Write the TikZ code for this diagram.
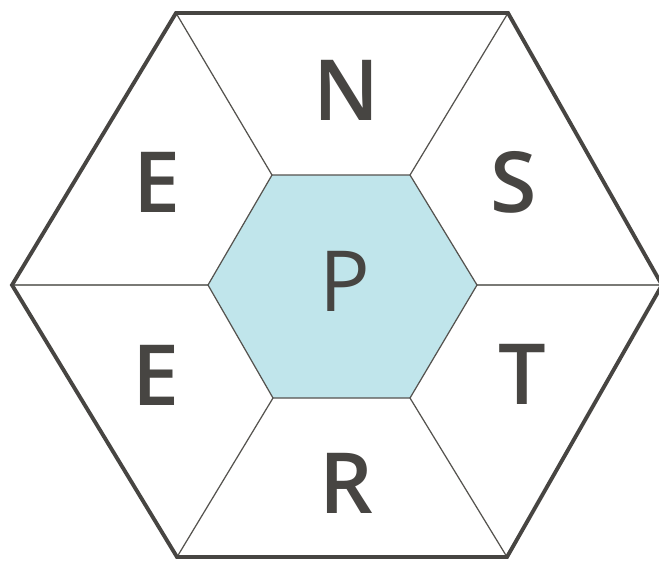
\documentclass[tikz,border=0pt]{standalone}
\usepackage{fontspec}
\setsansfont{Open Sans}
\newfontfamily\hexsemi{Open Sans Semibold}
\usetikzlibrary{positioning}
\definecolor{clrborder}{HTML}{474542}
\definecolor{clrspoke}{HTML}{55534F}
\definecolor{clrmid}{HTML}{7A7A76}
\definecolor{clrcore}{HTML}{C0E5EB}
\definecolor{clrtext}{HTML}{474542}

\begin{document}
\begin{tikzpicture}[
    x=0.02cm, y=-0.02cm,
    outer/.style={draw=clrborder, line width=2.2pt, line join=miter},
    spoke/.style={draw=clrspoke, line width=0.7pt},
    midspoke/.style={draw=clrmid, line width=1.1pt},
    core/.style={fill=clrcore, draw=clrspoke, line width=0.7pt},
    letter/.style={font=\hexsemi\fontsize{48}{48}\selectfont, text=clrtext, inner sep=0pt},
    centre/.style={font=\sffamily\fontsize{48}{48}\selectfont, text=clrtext, inner sep=0pt},
]
\useasboundingbox (0,0) rectangle (659,562);
\fill[white] (0,0) rectangle (659,562);
% outer hexagon
\coordinate (o_1) at (176,13);
\coordinate (o_2) at (508,13);
\coordinate (o_3) at (662,285);
\coordinate (o_4) at (507,557);
\coordinate (o_5) at (177,557);
\coordinate (o_6) at (12,285);
% inner hexagon
\coordinate (i_1) at (272,175);
\coordinate (i_2) at (410,175);
\coordinate (i_3) at (477,285);
\coordinate (i_4) at (410,398);
\coordinate (i_5) at (273,398);
\coordinate (i_6) at (208,285);
\draw[spoke] (i_1) -- (o_1);
\draw[spoke] (i_2) -- (o_2);
\draw[midspoke] (i_3) -- (o_3);
\draw[spoke] (i_4) -- (o_4);
\draw[spoke] (i_5) -- (o_5);
\draw[midspoke] (i_6) -- (o_6);
\draw[core] (i_1) -- (i_2) -- (i_3) -- (i_4) -- (i_5) -- (i_6) -- cycle;
\draw[outer] (o_1) -- (o_2) -- (o_3) -- (o_4) -- (o_5) -- (o_6) -- cycle;
% letters
\node[letter] (n_N) at (347,90) {N};
\node[letter] (n_S) at (514,182) {S};
\node[letter] (n_T) at (522,374) {T};
\node[letter] (n_R) at (346,483) {R};
\node[letter] (n_E2) at (156,375) {E};
\node[letter] (n_E1) at (157,182) {E};
\node[centre] (n_P) at (345,281) {P};
\end{tikzpicture}
\end{document}
